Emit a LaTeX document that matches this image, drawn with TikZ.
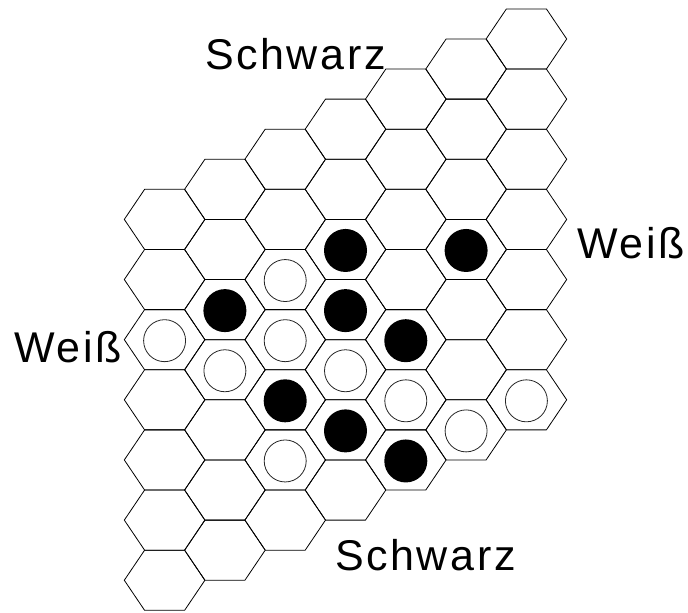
\documentclass[tikz,border=0pt]{standalone}
\usepackage{fontspec}
\setmainfont{Liberation Sans}
\usepackage{tikz}

\begin{document}
\begin{tikzpicture}[x=1pt, y=-1pt, line join=round, line cap=round]
\tikzset{
  cell/.style={draw=black, line width=0.8pt},
  blackstone/.style={fill=black},
  whitestone/.style={draw=black!85, line width=0.8pt, fill=white},
  side/.style={font=\fontsize{43}{43}\selectfont\addfontfeatures{LetterSpace=6}, anchor=base west, inner sep=0pt}
}
\useasboundingbox (0,0) rectangle (688,613);
\foreach \c in {0,...,6} {
  \foreach \r in {0,...,6} {
    \coordinate (h\c\r) at ({164.6+60.3*\c}, {219.4-30.07*\c+60.14*\r});
    \draw[cell] (h\c\r) ++(-40.3,0) -- ++(20.3,-30.07) -- ++(40,0) -- ++(20.3,30.07)
      -- ++(-20.3,30.07) -- ++(-40,0) -- cycle;
  }
}
\foreach \c/\r in {1/2,2/4,3/2,3/3,3/5,4/4,4/6,5/3}
  \fill[blackstone] (h\c\r) ++(0,1) circle[radius=21.5];
\foreach \c/\r in {0/2,1/3,2/2,2/3,2/5,3/4,4/5,5/6,6/6}
  \draw[whitestone] (h\c\r) ++(0,1) circle[radius=21];
\node[side] (topblack) at (205,69) {Schwarz};
\node[side] (rightwhite) at (577,258) {Weiß};
\node[side] (leftwhite) at (14,362) {Weiß};
\node[side] (bottomblack) at (335,570) {Schwarz};
\end{tikzpicture}
\end{document}
